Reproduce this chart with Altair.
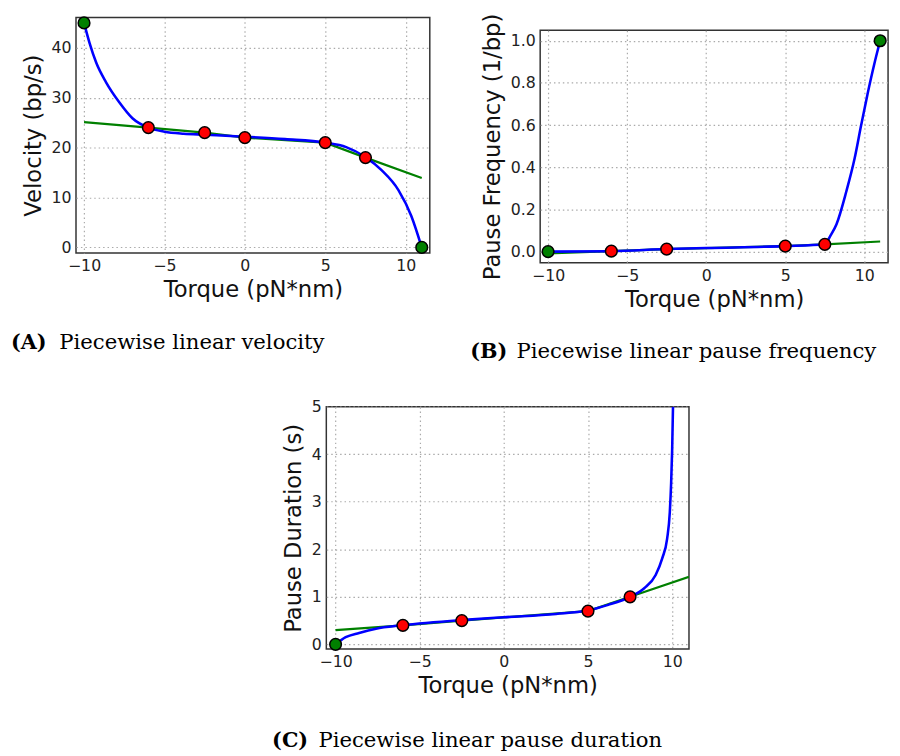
import altair as alt
import pandas as pd

# ---------------- data ----------------
# Panel A: velocity
a_red_x = [-6, -2.5, 0, 5, 7.5]
a_red_y = [24, 23, 22, 21, 18]
a_green_x = [-10, 11]
a_green_y = [45, 0]
a_lin_x = [-10, -6, -2.5, 0, 5, 7.5, 11]
a_lin_y = [25.1, 24, 23, 22, 21, 18, 13.9]
a_curve_x = [-10, -9.66, -9.24, -8.63, -7.81, -6.99, -6, -5, -3.8, -2.5, 0, 2.5, 5, 6.3, 7.5, 8.5, 9.55, 10.35, 11]
a_curve_y = [45, 41, 37, 33.1, 29.1, 25.9, 24, 23.2, 22.8, 22.6, 22.2, 21.7, 21, 20.1, 18.1, 15.5, 11.5, 6.3, 0]

# Panel B: pause frequency
b_red_x = [-6, -2.5, 5, 7.5]
b_red_y = [0.002, 0.012, 0.026, 0.034]
b_green_x = [-10, 11]
b_green_y = [0.0, 1.0]
b_lin_x = [-10, -6, -2.5, 5, 7.5, 11]
b_lin_y = [-0.008, 0.002, 0.012, 0.026, 0.034, 0.048]
b_curve_x = [-10, -6, -2.5, 0, 5, 7.5, 7.85, 8.24, 8.86, 9.38, 9.8, 10.21, 10.63, 11]
b_curve_y = [0.0, 0.002, 0.012, 0.017, 0.026, 0.035, 0.075, 0.13, 0.285, 0.44, 0.6, 0.75, 0.89, 1.0]

# Panel C: pause duration
c_red_x = [-6, -2.5, 5, 7.5]
c_red_y = [0.4, 0.5, 0.7, 1.0]
c_green_x = [-10]
c_green_y = [0.0]
c_lin_x = [-10, -6, -2.5, 5, 7.5, 11]
c_lin_y = [0.3, 0.4, 0.5, 0.7, 1.0, 1.42]
c_curve_x = [-10, -9.4, -8.6, -7.6, -6.05, -2.55, 0, 3.1, 4.95, 6.2, 7.5, 8.34, 9.02, 9.41, 9.7, 9.86, 9.94, 10.0, 10.05]
c_curve_y = [0.0, 0.15, 0.24, 0.33, 0.40, 0.51, 0.57, 0.64, 0.71, 0.83, 1.0, 1.18, 1.46, 1.81, 2.22, 2.78, 3.4, 4.1, 5.0]

x_ticks = [-10, -5, 0, 5, 10]

FONT = "DejaVu Sans"
SERIF = "DejaVu Serif"
BLUE = "#0000ff"
GREEN = "#008000"


def panel(curve_x, curve_y, lin_x, lin_y, red_x, red_y, green_x, green_y,
          xdom, ydom, yticks, yfmt, ytitle, w, h, cap_bold, cap_text,
          cap_bx, cap_tx, cap_y):
    curve = pd.DataFrame({"x": curve_x, "y": curve_y})
    lin = pd.DataFrame({"x": lin_x, "y": lin_y})
    red = pd.DataFrame({"x": red_x, "y": red_y})
    green = pd.DataFrame({"x": green_x, "y": green_y})

    xs = alt.Scale(domain=xdom, nice=False, zero=False)
    ys = alt.Scale(domain=ydom, nice=False, zero=False)
    xax = alt.Axis(values=x_ticks, title="Torque (pN*nm)", format="d",
                   grid=True, labelPadding=5, titlePadding=5)
    yax = alt.Axis(values=yticks, title=ytitle, format=yfmt, grid=True,
                   labelPadding=5, titlePadding=6)

    X = alt.X("x:Q", scale=xs, axis=xax)
    Y = alt.Y("y:Q", scale=ys, axis=yax)

    l_green = alt.Chart(lin).mark_line(color=GREEN, strokeWidth=2.2, clip=True).encode(x=X, y=Y)
    l_blue = alt.Chart(curve).mark_line(color=BLUE, strokeWidth=2.6, clip=True,
                                        interpolate="monotone").encode(x=X, y=Y)
    p_red = alt.Chart(red).mark_circle(size=140, color="#ff0000", opacity=1,
                                       stroke="black", strokeWidth=1.5).encode(x=X, y=Y)
    p_green = alt.Chart(green).mark_circle(size=140, color=GREEN, opacity=1,
                                           stroke="black", strokeWidth=1.5).encode(x=X, y=Y)
    cap1 = alt.Chart(pd.DataFrame({"t": [cap_bold]})).mark_text(
        font=SERIF, fontSize=21, fontWeight="bold", align="left", baseline="alphabetic",
        color="black").encode(text="t:N", x=alt.value(cap_bx), y=alt.value(cap_y))
    cap2 = alt.Chart(pd.DataFrame({"t": [cap_text]})).mark_text(
        font=SERIF, fontSize=21.5, align="left", baseline="alphabetic",
        color="black").encode(text="t:N", x=alt.value(cap_tx), y=alt.value(cap_y))
    return alt.layer(l_green, l_blue, p_red, p_green, cap1, cap2).properties(width=w, height=h)


A = panel(a_curve_x, a_curve_y, a_lin_x, a_lin_y, a_red_x, a_red_y, a_green_x, a_green_y,
          [-10.5, 11.5], [-1.1, 46.1], [0, 10, 20, 30, 40], "d", "Velocity (bp/s)",
          359, 239, "(A)", "Piecewise linear velocity", -66, -17, 336)
B = panel(b_curve_x, b_curve_y, b_lin_x, b_lin_y, b_red_x, b_red_y, b_green_x, b_green_y,
          [-10.5, 11.5], [-0.053, 1.05], [0, 0.2, 0.4, 0.6, 0.8, 1.0], ".1f",
          "Pause Frequency (1/bp)",
          353, 236, "(B)", "Piecewise linear pause frequency", -71, -24, 333)
C = panel(c_curve_x, c_curve_y, c_lin_x, c_lin_y, c_red_x, c_red_y, c_green_x, c_green_y,
          [-10.55, 11], [-0.1, 5], [0, 1, 2, 3, 4, 5], "d", "Pause Duration (s)",
          368, 246, "(C)", "Piecewise linear pause duration", -55, -8, 345)


def spacer(w, h):
    return alt.Chart(pd.DataFrame({"a": [0]})).mark_point(opacity=0).encode(
        x=alt.value(0), y=alt.value(0)).properties(
        width=w, height=h, view=alt.ViewBackground(stroke="transparent"))


colB = alt.vconcat(spacer(353, 13), B, spacing=0, bounds="flush")
top = alt.hconcat(A, colB, spacing=112, bounds="flush")
bottom = alt.hconcat(spacer(254, 20), C, spacing=0, bounds="flush")

chart = alt.vconcat(top, bottom, spacing=395, bounds="flush").properties(
    padding={"left": 2, "top": -2, "right": 2, "bottom": 2},
    background="white"
).configure_view(
    stroke="#333333", strokeWidth=1.5
).configure_axis(
    labelFont=FONT, titleFont=FONT, labelFontSize=16, titleFontSize=23,
    titleFontWeight="normal", labelColor="#222222", titleColor="#111111",
    domain=False, ticks=False, gridColor="#aaaaaa", gridDash=[1.5, 3],
    gridWidth=1.2, gridOpacity=1
)

chart.save("out.html", embed_options={"renderer": "svg", "actions": False})
